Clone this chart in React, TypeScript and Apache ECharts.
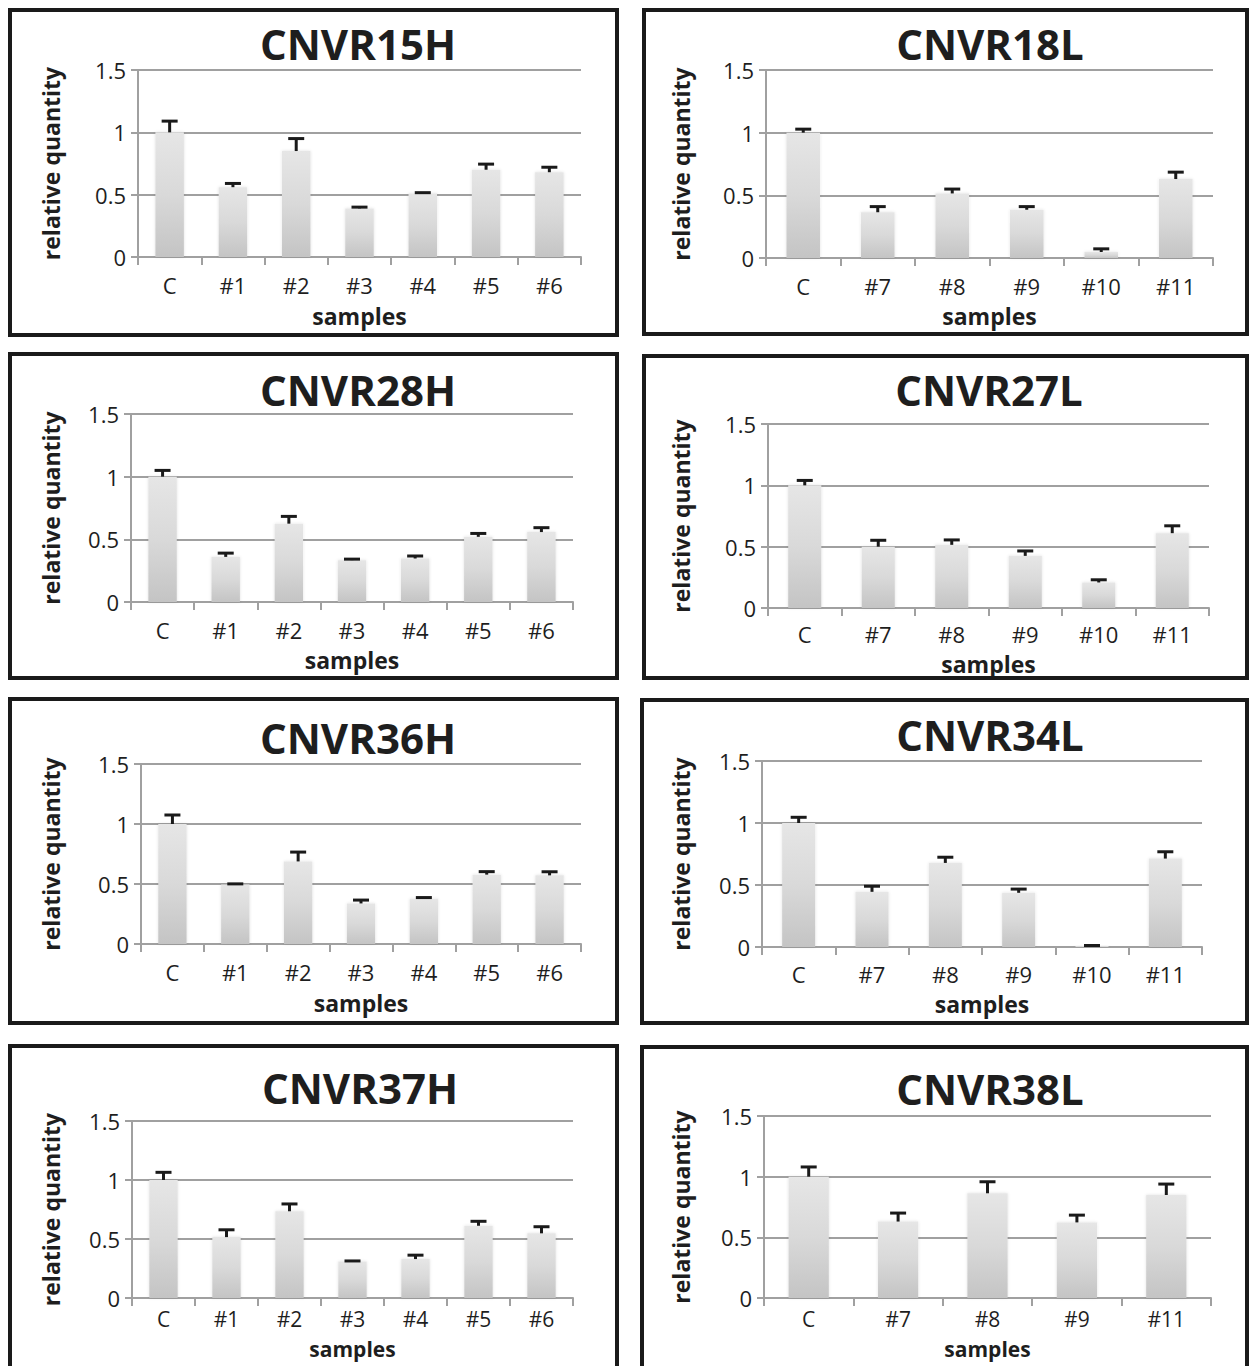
import React, { useEffect, useRef } from "react";
import * as echarts from "echarts";

// ---- data ----
const catsH = ["C", "#1", "#2", "#3", "#4", "#5", "#6"];
const catsL = ["C", "#7", "#8", "#9", "#10", "#11"];
const catsL38 = ["C", "#7", "#8", "#9", "#11"];

const cnvr15hValues = [1.0, 0.56, 0.85, 0.39, 0.51, 0.7, 0.68];
const cnvr15hErrors = [0.09, 0.03, 0.1, 0.01, 0.006, 0.045, 0.04];

const cnvr18lValues = [1.0, 0.365, 0.515, 0.385, 0.048, 0.63];
const cnvr18lErrors = [0.028, 0.045, 0.035, 0.025, 0.025, 0.055];

const cnvr28hValues = [1.0, 0.36, 0.625, 0.334, 0.347, 0.52, 0.558];
const cnvr28hErrors = [0.05, 0.03, 0.058, 0.008, 0.02, 0.027, 0.035];

const cnvr27lValues = [1.0, 0.5, 0.515, 0.425, 0.208, 0.61];
const cnvr27lErrors = [0.04, 0.052, 0.04, 0.04, 0.022, 0.06];

const cnvr36hValues = [1.0, 0.495, 0.688, 0.338, 0.377, 0.578, 0.572];
const cnvr36hErrors = [0.075, 0.006, 0.078, 0.028, 0.01, 0.025, 0.03];

const cnvr34lValues = [1.0, 0.445, 0.678, 0.437, 0.008, 0.713];
const cnvr34lErrors = [0.046, 0.045, 0.046, 0.03, 0.004, 0.055];

const cnvr37hValues = [1.0, 0.516, 0.735, 0.31, 0.33, 0.612, 0.548];
const cnvr37hErrors = [0.065, 0.062, 0.062, 0.004, 0.033, 0.038, 0.056];

const cnvr38lValues = [1.0, 0.63, 0.863, 0.623, 0.849];
const cnvr38lErrors = [0.08, 0.07, 0.095, 0.06, 0.09];

const yTicks = { min: 0, max: 1.5, interval: 0.5 };

// ---- layout (positions only) ----
const panels = [
  { title: "CNVR15H", cats: catsH, values: cnvr15hValues, errors: cnvr15hErrors,
    grid: [138, 70, 443, 187], box: [10, 10, 607, 325], tc: [358, 43], yGap: 76, xGap: 49, lm: 19, nf: 23, lf: 22 },
  { title: "CNVR18L", cats: catsL, values: cnvr18lValues, errors: cnvr18lErrors,
    grid: [766, 70, 447, 188], box: [644, 10, 603, 324], tc: [990, 43], yGap: 74, xGap: 48, lm: 19, nf: 23, lf: 22 },
  { title: "CNVR28H", cats: catsH, values: cnvr28hValues, errors: cnvr28hErrors,
    grid: [131, 414, 442, 188], box: [10, 354, 607, 324], tc: [358, 389], yGap: 69, xGap: 48, lm: 19, nf: 23, lf: 22 },
  { title: "CNVR27L", cats: catsL, values: cnvr27lValues, errors: cnvr27lErrors,
    grid: [768, 424, 441, 184], box: [644, 356, 603, 322], tc: [989, 389], yGap: 76, xGap: 46, lm: 17, nf: 23, lf: 22 },
  { title: "CNVR36H", cats: catsH, values: cnvr36hValues, errors: cnvr36hErrors,
    grid: [141, 764, 440, 180], box: [10, 699, 607, 324], tc: [358, 737], yGap: 79, xGap: 49, lm: 19, nf: 23, lf: 22 },
  { title: "CNVR34L", cats: catsL, values: cnvr34lValues, errors: cnvr34lErrors,
    grid: [762, 761, 440, 186], box: [642, 700, 605, 323], tc: [990, 734], yGap: 70, xGap: 47, lm: 18, nf: 23, lf: 22 },
  { title: "CNVR37H", cats: catsH, values: cnvr37hValues, errors: cnvr37hErrors,
    grid: [132, 1121, 441, 177], box: [10, 1046, 607, 330], tc: [360, 1087], yGap: 70, xGap: 41, lm: 12, nf: 21, lf: 21 },
  { title: "CNVR38L", cats: catsL38, values: cnvr38lValues, errors: cnvr38lErrors,
    grid: [764, 1116, 447, 182], box: [642, 1047, 605, 330], tc: [990, 1088], yGap: 72, xGap: 41, lm: 12, nf: 21, lf: 21 },
];

const FONT = "'Open Sans', 'Noto Sans', sans-serif";
const GRID_COLOR = "#a0a0a0";
const TEXT_COLOR = "#1e1e1e";

function buildOption() {
  const grid: any[] = [];
  const xAxis: any[] = [];
  const yAxis: any[] = [];
  const series: any[] = [];
  const title: any[] = [];
  const graphic: any[] = [];

  panels.forEach((p, i) => {
    const [l, t, w, h] = p.grid;
    grid.push({ left: l, top: t, width: w, height: h, containLabel: false });
    xAxis.push({
      type: "category",
      gridIndex: i,
      data: p.cats,
      name: "samples",
      nameLocation: "middle",
      nameGap: p.xGap,
      nameTextStyle: { fontFamily: FONT, fontWeight: "bold", fontSize: p.nf, lineHeight: 20, color: TEXT_COLOR },
      axisLine: { show: true, lineStyle: { color: GRID_COLOR, width: 2 } },
      axisTick: { show: true, length: 8, lineStyle: { color: GRID_COLOR, width: 2 } },
      axisLabel: { fontFamily: FONT, fontSize: p.lf, lineHeight: 18, color: TEXT_COLOR, margin: p.lm },
      splitLine: { show: false },
    });
    yAxis.push({
      type: "value",
      gridIndex: i,
      min: yTicks.min,
      max: yTicks.max,
      interval: yTicks.interval,
      name: "relative quantity",
      nameLocation: "middle",
      nameGap: p.yGap,
      nameTextStyle: { fontFamily: FONT, fontWeight: "bold", fontSize: 23, color: TEXT_COLOR },
      axisLine: { show: true, lineStyle: { color: GRID_COLOR, width: 2 } },
      axisTick: { show: true, length: 7, lineStyle: { color: GRID_COLOR, width: 2 } },
      axisLabel: { fontFamily: FONT, fontSize: 22, color: TEXT_COLOR, margin: 12 },
      splitLine: { show: true, lineStyle: { color: GRID_COLOR, width: 2 } },
    });
    series.push({
      type: "bar",
      xAxisIndex: i,
      yAxisIndex: i,
      data: p.values,
      barWidth: "45%",
      itemStyle: {
        color: new echarts.graphic.LinearGradient(0, 0, 0, 1, [
          { offset: 0, color: "#e6e6e6" },
          { offset: 0.5, color: "#d9d9d9" },
          { offset: 1, color: "#c4c4c4" },
        ]),
        shadowColor: "rgba(0,0,0,0.12)",
        shadowBlur: 3,
      },
      z: 2,
    });
    series.push({
      type: "custom",
      xAxisIndex: i,
      yAxisIndex: i,
      z: 5,
      encode: { x: 0, y: 1 },
      data: p.values.map((v, k) => [k, v, p.errors[k]]),
      renderItem: (params: any, api: any) => {
        const idx = api.value(0);
        const v = api.value(1);
        const e = api.value(2);
        const base = api.coord([idx, v]);
        const top = api.coord([idx, v + e]);
        const half = 8;
        return {
          type: "group",
          children: [
            {
              type: "line",
              shape: { x1: base[0], y1: base[1], x2: top[0], y2: top[1] },
              style: { stroke: "#1a1a1a", lineWidth: 3 },
            },
            {
              type: "line",
              shape: { x1: top[0] - half, y1: top[1], x2: top[0] + half, y2: top[1] },
              style: { stroke: "#1a1a1a", lineWidth: 3 },
            },
          ],
        };
      },
    });
    title.push({
      text: p.title,
      left: p.tc[0],
      top: p.tc[1] - 24,
      textAlign: "center",
      padding: 0,
      textStyle: { fontFamily: FONT, fontWeight: "bold", fontSize: 42, lineHeight: 48, color: TEXT_COLOR },
    });
    graphic.push({
      type: "rect",
      shape: { x: p.box[0], y: p.box[1], width: p.box[2], height: p.box[3] },
      style: { fill: "none", stroke: "#1a1a1a", lineWidth: 4 },
      z: 10,
      silent: true,
    });
  });

  return {
    animation: false,
    backgroundColor: "#ffffff",
    title,
    grid,
    xAxis,
    yAxis,
    series,
    graphic,
  };
}

export default function App() {
  const ref = useRef<HTMLDivElement>(null);
  useEffect(() => {
    if (!ref.current) return;
    const chart = echarts.init(ref.current, undefined, { renderer: "svg" });
    chart.setOption(buildOption() as any);
    return () => chart.dispose();
  }, []);
  return (
    <div
      ref={ref}
      style={{ position: "absolute", left: 0, top: 0, width: 1250, height: 1366, background: "#fff" }}
    />
  );
}
